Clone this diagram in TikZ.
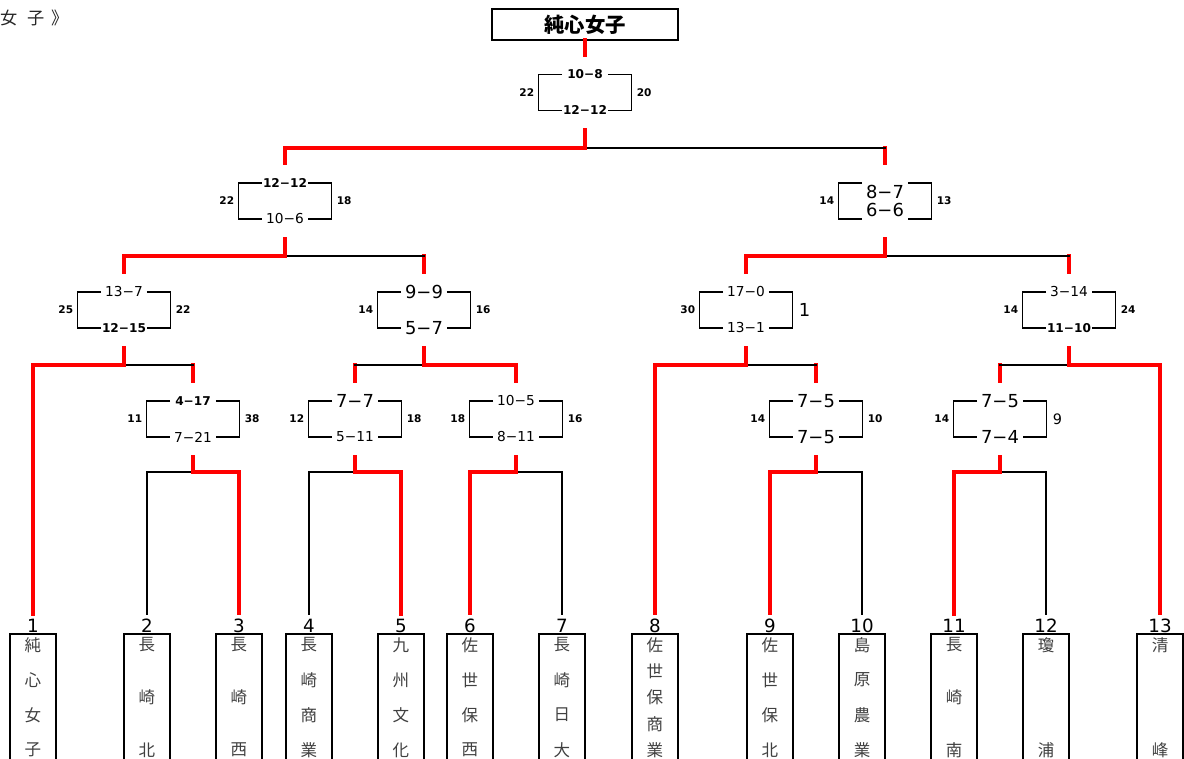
\documentclass[tikz,border=0pt]{standalone}
\usepackage{fontspec}
\setmainfont{DejaVu Sans}
\newfontfamily\jpfont{Noto Sans CJK JP}
\usetikzlibrary{calc}

\tikzset{
  win/.style={red, line width=2.2pt, line cap=rect},
  lose/.style={black, line width=1.2pt, line cap=rect},
  boxline/.style={line width=1.1pt},
  matchbox/.style={minimum width=1.86cm, minimum height=0.72cm, inner sep=0pt, outer sep=0pt},
  titlebox/.style={draw, line width=1.5pt, minimum width=3.72cm, minimum height=0.62cm, inner sep=0pt,
    font=\jpfont\bfseries\fontsize{11.6}{12}\selectfont},
  scS/.style={font=\fontsize{6.9}{7}\selectfont\bfseries, inner sep=0pt},
  scM/.style={font=\fontsize{7.8}{8}\selectfont, inner sep=0pt},
  scL/.style={font=\fontsize{10.2}{11}\selectfont, inner sep=0pt},
  sideno/.style={font=\fontsize{6}{6}\selectfont\bfseries, inner sep=0pt},
  teamno/.style={font=\fontsize{10.4}{11}\selectfont, inner sep=0pt, anchor=south},
  teambox/.style={draw, line width=1.1pt, minimum width=0.92cm, minimum height=2.64cm, inner sep=0pt},
  teamchar/.style={font=\jpfont\fontsize{9.4}{10}\selectfont, text=black!75, inner sep=0pt},
}

\begin{document}
\begin{tikzpicture}[x=0.02cm, y=-0.02cm]
		\useasboundingbox (0,0) rectangle (1184,758);
		\node[anchor=west, inner sep=0pt, font=\jpfont\fontsize{9.8}{10}\selectfont, text=black!85] (label) at (0,18) {女\hspace{0.55em}子\hspace{0.4em}》};
		\node[titlebox] (title) at (585,24.5) {純心女子};
		% teams
		\foreach \k/\x/\hy/\st/\n/\nm in {
			1/33/365/win/4/{純,心,女,子},
			2/147/472/lose/3/{長,崎,北},
			3/239/472/win/3/{長,崎,西},
			4/309/472/lose/4/{長,崎,商,業},
			5/401/472/win/4/{九,州,文,化},
			6/470/472/win/4/{佐,世,保,西},
			7/562/472/lose/4/{長,崎,日,大},
			8/655/365/win/5/{佐,世,保,商,業},
			9/770/472/win/4/{佐,世,保,北},
			10/862/472/lose/4/{島,原,農,業},
			11/954/472/win/3/{長,崎,南},
			12/1046/472/lose/2/{瓊,浦},
			13/1160/365/win/2/{清,峰}}
		{
			\node[teambox] (t\k) at (\x,700) {};
			\node[teamno] (n\k) at (\x,633) {\k};
			\coordinate (t\k-in) at (\x,\hy);
			\draw[\st] (t\k-in) -- ($(n\k.north)+(0,-5)$);
			\foreach \c [count=\i] in \nm
				\node[teamchar] (t\k-\i) at (\x,{645+(\i-1)*105/(\n-1)}) {\c};
		}
		% match boxes
		\foreach \m/\x/\y/\yin/\yout in {f/585/92.5/40/148,
			sl/285/201/148/256, sr/885/201/148/256,
			q1/124/310/256/365, q2/424/310/256/365, q3/746/310/256/365, q4/1069/310/256/365,
			r1/193/419/365/472, r2/355/419/365/472, r3/516/419/365/472, r4/816/419/365/472, r5/1000/419/365/472}
		{
			\node[matchbox] (\m) at (\x,\y) {};
			\coordinate (\m-in) at (\x,\yin);
			\coordinate (\m-out) at (\x,\yout);
			\draw[boxline] ($(\m.north west)+(23.5,0)$) -- (\m.north west) -- (\m.south west) -- ++(23.5,0);
			\draw[boxline] ($(\m.north east)+(-23.5,0)$) -- (\m.north east) -- (\m.south east) -- ++(-23.5,0);
			\draw[win] (\m-in) -- ($(\m.north)+(0,-19.5)$);
		}
		% winner in red, loser in black
		\foreach \m/\w/\l in {f/sl/sr, sl/q1/q2, sr/q3/q4, q1/t1/r1, q2/r3/r2, q3/t8/r4, q4/t13/r5,
			r1/t3/t2, r2/t5/t4, r3/t6/t7, r4/t9/t10, r5/t11/t12}
		{
			\draw[lose] (\m-out) -- (\l-in);
			\draw[win] ($(\m.south)+(0,19.5)$) -- (\m-out) -- (\w-in);
		}
		% scores
		\foreach \m/\a/\as/\b/\bs in {f/10−8/scS/12−12/scS, sl/12−12/scS/10−6/scM,
			q1/13−7/scM/12−15/scS, q2/9−9/scL/5−7/scL, q3/17−0/scM/13−1/scM, q4/3−14/scM/11−10/scS,
			r1/4−17/scS/7−21/scM, r2/7−7/scL/5−11/scM, r3/10−5/scM/8−11/scM,
			r4/7−5/scL/7−5/scL, r5/7−5/scL/7−4/scL}
		{
			\node[\as] (\m-a) at (\m.north) {\a};
			\node[\bs] (\m-b) at (\m.south) {\b};
		}
		\node[scL] (sr-a) at ($(sr.center)+(0,-9)$) {8−7};
		\node[scL] (sr-b) at ($(sr.center)+(0,9)$) {6−6};
		% set counts
		\foreach \m/\l/\r in {f/22/20, sl/22/18, sr/14/13, q1/25/22, q2/14/16, q4/14/24,
			r1/11/38, r2/12/18, r3/18/16, r4/14/10}
		{
			\node[sideno, anchor=east] (\m-l) at ($(\m.west)+(-4,0)$) {\l};
			\node[sideno, anchor=west] (\m-r) at ($(\m.east)+(5,0)$) {\r};
		}
		\node[sideno, anchor=east] (q3-l) at ($(q3.west)+(-4,0)$) {30};
		\node[scL, anchor=west] (q3-r) at ($(q3.east)+(6,0)$) {1};
		\node[sideno, anchor=east] (r5-l) at ($(r5.west)+(-4,0)$) {14};
		\node[scM, font=\fontsize{8.2}{9}\selectfont, anchor=west] (r5-r) at ($(r5.east)+(6,0)$) {9};
\end{tikzpicture}
\end{document}
